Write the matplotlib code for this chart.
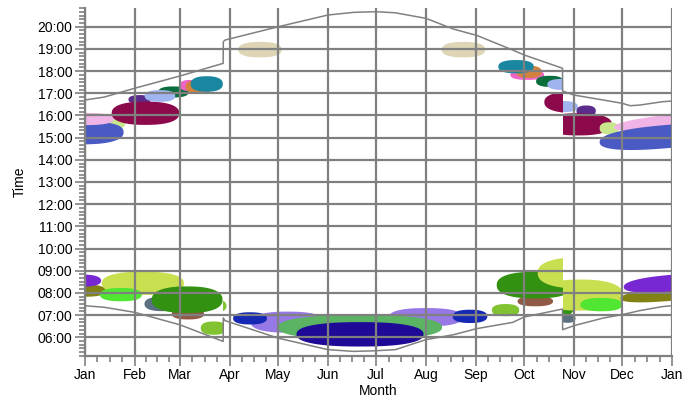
import matplotlib
import numpy as np

matplotlib.use("Agg")
import matplotlib.pyplot as plt  # noqa: E402
from matplotlib.patches import Rectangle  # noqa: E402

plt.rcParams["font.family"] = ["Liberation Sans", "DejaVu Sans"]

GRAY = "#808080"
DST_START, DST_END = 86, 297
SHAPE = 2.4  # blobs are a bit squarer than ellipses

# month starts (day of year) and labels
month_days = [0, 31, 59, 90, 120, 151, 181, 212, 243, 273, 304, 334, 365]
month_labels = ["Jan", "Feb", "Mar", "Apr", "May", "Jun", "Jul", "Aug",
                "Sep", "Oct", "Nov", "Dec", "Jan"]

# sunrise / sunset (hours); duplicated days are DST jumps
sun_day = [0, 12, 31, 59, 85.9, 86, 87, 120, 151, 167, 181, 193, 212, 229, 239,
           243, 266, 273, 296.9, 297, 304, 322, 334, 339, 345, 359, 365]
sunset = [16.70, 16.83, 17.23, 17.78, 18.35, 19.32, 19.40, 20.00, 20.53, 20.65,
          20.68, 20.63, 20.38, 19.90, 19.70, 19.63, 18.95, 18.73, 18.13, 17.10,
          16.92, 16.70, 16.55, 16.44, 16.47, 16.62, 16.65]
sunrise = [7.42, 7.35, 7.12, 6.56, 5.81, 6.87, 6.75, 5.96, 5.44, 5.36, 5.39,
           5.44, 5.89, 6.11, 6.30, 6.38, 6.67, 6.91, 7.27, 6.34, 6.52, 6.86,
           7.02, 7.10, 7.20, 7.38, 7.42]

# activity blobs: centre day, centre hour, width (days), height (hours),
# tilt (hours/day), colour, visible day range (cut at DST changes)
blob_day = [19, 2, 0, 34, 37.6, 55, 46.6, 65, 71, 75.7,
            108.8, 235.3,
            275, 276, 268, 289, 297, 297, 311.6, 306.6, 306.6, 326, 365, 362,
            0, -2, 36, 22.3, 48, 64, 63.5, 80, 80,
            126, 212, 102.6, 239.4, 171, 171,
            261.5, 280, 280, 280, 300, 308, 308, 321, 366, 366]
blob_hour = [15.65, 15.2, 15.84, 16.72, 16.1, 17.06, 16.88, 17.35, 17.3, 17.42,
             18.97, 18.97,
             17.83, 17.97, 18.2, 17.54, 17.4, 16.4, 16.2, 16.6, 15.6, 15.42, 15.75, 15.05,
             8.1, 8.55, 8.43, 7.92, 7.5, 7.05, 7.69, 6.41, 7.41,
             6.68, 6.9, 6.85, 6.94, 6.45, 6.13,
             7.22, 7.62, 8.35, 7.35, 6.85, 8.9, 7.9, 7.47, 7.95, 8.45]
blob_width = [12, 44, 36, 14, 42, 19, 19, 12, 17, 20,
              27, 27,
              21, 16, 22, 17, 19, 19, 12, 42, 42, 12, 72, 84,
              26, 24, 51, 26, 22, 20, 44, 16, 16,
              46, 46, 21, 21.5, 102, 79,
              17, 22, 48, 48, 10, 53, 53, 26, 66, 62]
blob_height = [0.5, 1.0, 0.55, 0.4, 1.05, 0.5, 0.53, 0.5, 0.6, 0.7,
               0.7, 0.7,
               0.45, 0.55, 0.6, 0.5, 0.5, 0.5, 0.5, 1.0, 1.0, 0.55, 0.6, 1.05,
               0.55, 0.55, 1.05, 0.6, 0.65, 0.5, 1.2, 0.6, 0.6,
               0.95, 0.83, 0.55, 0.6, 1.1, 1.1,
               0.55, 0.45, 1.2, 1.2, 0.4, 1.4, 1.4, 0.6, 0.6, 0.75]
blob_tilt = [0, 0.002, 0, 0, 0, 0, 0, 0, 0, 0,
             0, 0,
             0, 0, 0, 0, 0, 0, 0, 0, 0, 0, 0.008, 0.006,
             0, 0, 0, 0, 0, 0, 0, 0, 0,
             0, 0, 0, 0, 0, 0,
             0, 0, 0, 0, 0, 0, 0, 0, 0.006, 0.006]
blob_color = ["#c8e68c", "#4a5ac4", "#f0b4e6", "#5a2d8c", "#8c0a4b", "#0a6e3c",
              "#a0b4f0", "#f064c8", "#d2823c", "#1a87a0",
              "#ddd5b5", "#ddd5b5",
              "#f064c8", "#d2823c", "#1a87a0", "#0a6e3c", "#a0b4f0", "#a0b4f0",
              "#5a2d8c", "#8c0a4b", "#8c0a4b", "#c8e68c", "#f0b4e6", "#4a5ac4",
              "#828214", "#7828d2", "#c8e050", "#50e632", "#5a7080", "#915a46",
              "#329110", "#82c332", "#82c332",
              "#9678e6", "#9678e6", "#1428b4", "#1428b4", "#5ab464", "#1e0a96",
              "#82c332", "#915a46", "#329110", "#329110", "#5a7080", "#c8e050",
              "#c8e050", "#50e632", "#828214", "#7828d2"]
blob_from = [0] * 49
blob_to = [365] * 49
for i in (32,):
    blob_from[i] = DST_START
for i in (31,):
    blob_to[i] = DST_START
for i in (15, 16, 19, 40, 41, 44):
    blob_to[i] = DST_END
for i in (17, 20, 42, 43, 45):
    blob_from[i] = DST_END

fig = plt.figure(figsize=(6.99, 4.03), dpi=100)
ax = fig.add_axes([0.1216, 0.1174, 0.8398, 0.862])

t = np.linspace(0, 2 * np.pi, 200)
ct, st = np.cos(t), np.sin(t)
ex = 2 / SHAPE
for cx, cy, w, h, k, c, lo, hi in zip(blob_day, blob_hour, blob_width, blob_height,
                                      blob_tilt, blob_color, blob_from, blob_to):
    x = cx + w / 2 * np.sign(ct) * np.abs(ct) ** ex
    y = cy + h / 2 * np.sign(st) * np.abs(st) ** ex + k * (x - cx)
    patch, = ax.fill(x, y, color=c, lw=0, zorder=1)
    patch.set_clip_path(Rectangle((lo, 5), hi - lo, 16, transform=ax.transData))

ax.plot(sun_day, sunset, color=GRAY, lw=1.1, zorder=3)
ax.plot(sun_day, sunrise, color=GRAY, lw=1.1, zorder=3)

ax.set_xlim(0, 365)
ax.set_ylim(5 + 10 / 60, 20 + 50 / 60)

ax.set_xticks(month_days)
ax.set_xticklabels(month_labels)
quarters = []
for a, b in zip(month_days[:-1], month_days[1:]):
    quarters += [a + (b - a) * q / 4 for q in (1, 2, 3)]
ax.set_xticks(quarters, minor=True)

hours = list(range(6, 21))
ax.set_yticks(hours)
ax.set_yticklabels([f"{h:02d}:00" for h in hours])
ax.set_yticks(np.arange(5 + 10 / 60, 20.84, 10 / 60), minor=True)

ax.grid(which="major", color=GRAY, lw=1.6, zorder=2)
ax.set_axisbelow(False)
for s in ("top", "right"):
    ax.spines[s].set_visible(False)
for s in ("left", "bottom"):
    ax.spines[s].set_color(GRAY)
    ax.spines[s].set_linewidth(1.6)
ax.tick_params(which="major", length=7, width=1.2, color=GRAY, labelsize=10, pad=2)
ax.tick_params(which="minor", length=4, width=1.2, color=GRAY)

ax.set_xlabel("Month", fontsize=10, labelpad=1)
ax.set_ylabel("Time", fontsize=10, labelpad=8)

fig.savefig("out.png", dpi=100)
